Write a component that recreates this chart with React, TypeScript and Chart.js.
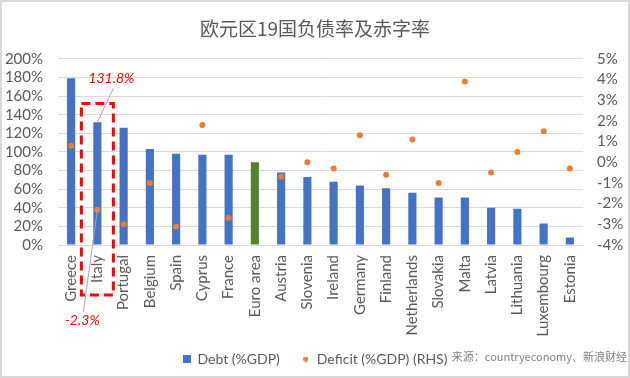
import { useEffect, useRef } from 'react';
import { Chart, registerables } from 'chart.js';
Chart.register(...registerables);

const titleText = '欧元区19国负债率及赤字率';
const sourceText = '来源：countryeconomy、新浪财经';
const countries = ['Greece', 'Italy', 'Portugal', 'Belgium', 'Spain', 'Cyprus', 'France', 'Euro area', 'Austria', 'Slovenia', 'Ireland', 'Germany', 'Finland', 'Netherlands', 'Slovakia', 'Malta', 'Latvia', 'Lithuania', 'Luxembourg', 'Estonia'];
const debt = [179, 131.8, 126, 103, 98, 97, 97, 89, 78, 73, 68, 64, 61, 56, 51, 51, 40, 39, 23, 8];
const deficit: (number | null)[] = [0.8, -2.3, -3.0, -1.0, -3.1, 1.8, -2.7, null, -0.7, 0.0, -0.3, 1.3, -0.6, 1.1, -1.0, 3.9, -0.5, 0.5, 1.5, -0.3];
const debtAxis = { min: 0, max: 200, step: 20 };
const deficitAxis = { min: -4, max: 5, step: 1 };
const highlightIndex = 1;
const aggregateLabel = 'Euro area';
const seriesNames = ['Debt (%GDP)', 'Deficit (%GDP) (RHS)'];

const BLUE = '#4472C4';
const GREEN = '#548235';
const ORANGE = '#ED7D31';
const GREY = '#595959';
const FONT = 'Lato, "Noto Sans", sans-serif';
const CJK = '"Noto Sans CJK SC", sans-serif';

function makeSquare(color: string, size: number) {
  const c = document.createElement('canvas');
  c.width = size; c.height = size;
  const g = c.getContext('2d')!;
  g.fillStyle = color; g.fillRect(0, 0, size, size);
  return c;
}
function makeDot(color: string, r: number) {
  const c = document.createElement('canvas');
  c.width = r * 2; c.height = r * 2;
  const g = c.getContext('2d')!;
  g.fillStyle = color; g.beginPath(); g.arc(r, r, r, 0, Math.PI * 2); g.fill();
  return c;
}

// let the rotated category labels run below the axis box (into the legend's empty top padding)
const unclipLabels = {
  id: 'unclipLabels',
  beforeDraw(chart: any) {
    const xs = chart.scales.x;
    if (xs && typeof xs._computeLabelArea === 'function') {
      xs._computeLabelArea = () => undefined;
    }
  },
};

const annotPlugin = {
  id: 'annot',
  afterDraw(chart: any) {
    const { ctx, scales, chartArea } = chart;
    const x = scales.x, y = scales.y, y2 = scales.y2;
    const cx = x.getPixelForValue(highlightIndex);
    const barTop = y.getPixelForValue(debt[highlightIndex]);
    const pt = y2.getPixelForValue(deficit[highlightIndex] as number);
    ctx.save();
    // leader lines
    ctx.strokeStyle = '#a6a6a6';
    ctx.lineWidth = 1;
    ctx.beginPath();
    ctx.moveTo(cx + 16, barTop - 34);
    ctx.lineTo(cx, barTop);
    ctx.moveTo(cx - 14, pt + 102);
    ctx.lineTo(cx, pt);
    ctx.stroke();
    // labels
    ctx.fillStyle = '#ff0000';
    ctx.font = `italic 14px ${FONT}`;
    ctx.textAlign = 'center';
    ctx.textBaseline = 'middle';
    ctx.fillText(`${debt[highlightIndex]}%`, cx + 14, barTop - 44);
    ctx.fillText(`${deficit[highlightIndex]}%`, cx - 15, pt + 111);
    // dashed box
    ctx.setLineDash([9, 5]);
    ctx.lineWidth = 3;
    ctx.strokeStyle = '#ff0000';
    const top = chartArea.bottom - 141.5;
    ctx.strokeRect(cx - 16, top, 32, chartArea.bottom + 50 - top);
    ctx.setLineDash([]);
    // source
    ctx.fillStyle = '#7f7f7f';
    ctx.font = `11px ${CJK}`;
    ctx.textAlign = 'right';
    ctx.fillText(sourceText, 627, 357);
    // border
    ctx.strokeStyle = '#d9d9d9';
    ctx.lineWidth = 2;
    ctx.strokeRect(1, 1, 628, 376);
    ctx.restore();
  },
};

export default function App() {
  const ref = useRef<HTMLCanvasElement>(null);
  useEffect(() => {
    if (!ref.current) return;
    const sq = makeSquare(BLUE, 8);
    const dot = makeDot(ORANGE, 2.5);
    const chart = new Chart(ref.current, {
      type: 'bar',
      data: {
        labels: countries,
        datasets: [
          {
            type: 'bar',
            label: seriesNames[0],
            data: debt,
            backgroundColor: countries.map((c) => (c === aggregateLabel ? GREEN : BLUE)),
            barPercentage: 0.31,
            categoryPercentage: 1,
            yAxisID: 'y',
            order: 1,
          },
          {
            type: 'line',
            label: seriesNames[1],
            data: deficit,
            showLine: false,
            pointRadius: 3,
            pointBackgroundColor: ORANGE,
            pointBorderWidth: 0,
            borderColor: ORANGE,
            yAxisID: 'y2',
            order: 0,
          } as any,
        ],
      },
      options: {
        responsive: false,
        animation: false,
        layout: { padding: { top: 0, left: 0, right: 0, bottom: 2 } },
        scales: {
          x: {
            grid: { display: false, drawTicks: false },
            border: { display: true, color: '#d9d9d9' },
            ticks: {
              autoSkip: false, minRotation: 90, maxRotation: 90, padding: 10,
              color: GREY, font: { family: FONT, size: 15 },
            },
            afterFit: (s: any) => { s.height = 85; },
          },
          y: {
            position: 'left',
            min: debtAxis.min, max: debtAxis.max,
            grid: { color: '#d9d9d9', drawTicks: false },
            border: { display: false },
            ticks: {
              stepSize: debtAxis.step, padding: 15, color: GREY, autoSkip: false,
              font: { family: FONT, size: 15 },
              callback: (v: any) => `${v}%`,
            },
            afterFit: (s: any) => { s.width = 58; },
          },
          y2: {
            position: 'right',
            min: deficitAxis.min, max: deficitAxis.max,
            grid: { display: false, drawTicks: false },
            border: { display: false },
            ticks: {
              stepSize: deficitAxis.step, padding: 14, color: GREY, autoSkip: false,
              font: { family: FONT, size: 15 },
              callback: (v: any) => `${v}%`,
            },
            afterFit: (s: any) => { s.width = 47; },
          },
        },
        plugins: {
          title: {
            display: true, text: titleText, color: GREY,
            font: { family: CJK, size: 19, weight: 'normal' },
            padding: { top: 17, bottom: 19 },
          },
          legend: {
            position: 'bottom',
            labels: {
              usePointStyle: true, boxWidth: 8, boxHeight: 8, padding: 22,
              color: GREY, font: { family: FONT, size: 14 },
              generateLabels: () => [
                { text: seriesNames[0], pointStyle: sq, fillStyle: BLUE, strokeStyle: BLUE, lineWidth: 0, hidden: false, datasetIndex: 0, fontColor: GREY },
                { text: seriesNames[1], pointStyle: dot, fillStyle: ORANGE, strokeStyle: ORANGE, lineWidth: 0, hidden: false, datasetIndex: 1, fontColor: GREY },
              ] as any,
            },
          },
          tooltip: { enabled: false },
        },
      } as any,
      plugins: [unclipLabels, annotPlugin],
    });
    return () => chart.destroy();
  }, []);
  return (
    <div style={{ position: 'absolute', left: 0, top: 0, width: 630, height: 378, background: '#fff' }}>
      <canvas ref={ref} width={630} height={378} style={{ display: 'block' }} />
    </div>
  );
}
